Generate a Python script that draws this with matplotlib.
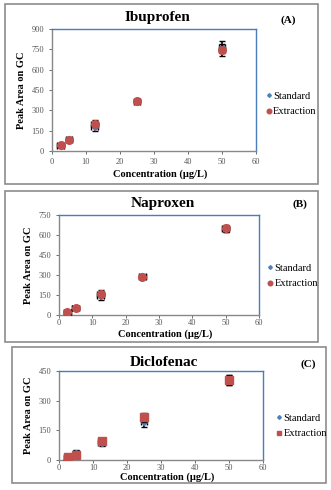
import numpy as np
import matplotlib.pyplot as plt
from matplotlib.patches import Rectangle

plt.rcParams['font.family'] = ['Liberation Serif', 'DejaVu Serif']

conc = [2.5, 5, 12.5, 25, 50]

ibu_std = [40, 85, 175, 360, 765]
ibu_ext = [45, 80, 200, 370, 745]
ibu_err = [15, 15, 25, 15, 45]

nap_std = [20, 55, 140, 290, 645]
nap_ext = [20, 50, 160, 285, 650]
nap_err = [10, 10, 25, 15, 25]

dic_std = [10, 35, 85, 190, 405]
dic_ext = [15, 25, 95, 215, 405]
dic_err = [10, 15, 15, 25, 25]

W, H = 331, 490
fig = plt.figure(figsize=(W / 100, H / 100), dpi=100)

blue = '#4f81bd'
red = '#c0504d'
spine = '#4a7ebb'


def px(x0, y0, x1, y1):
    # pixel box -> figure fraction [left, bottom, width, height]
    return [x0 / W, 1 - y1 / H, (x1 - x0) / W, (y1 - y0) / H]


def panel(box, axbox, title, tag, tagpos, std, ext, err, ymax, ext_marker,
          legy, xlab_y, titley, xpad=3.0, legx=0.015):
    fig.patches.append(Rectangle((box[0] / W, 1 - box[3] / H),
                                 (box[2] - box[0]) / W, (box[3] - box[1]) / H,
                                 transform=fig.transFigure, fill=False,
                                 edgecolor='#8c8c8c', lw=1.2))
    ax = fig.add_axes(px(*axbox))
    ax.errorbar(conc, std, yerr=err, xerr=1, fmt='D', color=blue, ms=3.2,
                ecolor='black', elinewidth=1.2, capsize=2.5, label='Standard',
                zorder=3)
    ax.errorbar(conc, ext, yerr=err, xerr=1, fmt=ext_marker, color=red,
                ms=5.5, ecolor='black', elinewidth=1.2, capsize=2.5,
                label='Extraction', zorder=4)
    ax.set_xlim(0, 60)
    ax.set_ylim(0, ymax)
    ax.set_xticks(range(0, 61, 10))
    ax.set_yticks(np.arange(0, ymax + 1, 150))
    ax.tick_params(labelsize=6, colors='#555555', length=2, width=0.6)
    ax.tick_params(axis='x', pad=xpad)
    for s in ax.spines.values():
        s.set_color(spine)
        s.set_linewidth(1.0)
    ax.spines['left'].set_color('#888888')
    ax.spines['bottom'].set_color('#888888')
    ax.set_ylabel('Peak Area on GC', fontsize=7.5, fontweight='bold')
    fig.text((axbox[0] + axbox[2]) / 2 / W + 0.01, 1 - titley / H, title,
             ha='center', va='center', fontsize=11, fontweight='bold')
    fig.text(tagpos[0] / W, 1 - tagpos[1] / H, tag, ha='center', va='center',
             fontsize=8, fontweight='bold')
    fig.text((axbox[0] + axbox[2]) / 2 / W + 0.02, 1 - xlab_y / H,
             'Concentration (\u00b5g/L)', ha='center', va='center',
             fontsize=7.5, fontweight='bold')
    h, l = ax.get_legend_handles_labels()
    h = [hh[0] for hh in h]
    fig.legend(h, l, loc='center left',
               bbox_to_anchor=(axbox[2] / W + legx, 1 - legy / H),
               frameon=False, fontsize=7.5, handlelength=0.5, markerscale=0.6,
               handletextpad=0.15, labelspacing=0.55, borderpad=0)
    return ax


panel((5, 4, 318, 184), (52, 29, 256, 151), 'Ibuprofen', '(A)', (288, 20),
      ibu_std, ibu_ext, ibu_err, 900, 'o', 104, 174, 17)
panel((5, 191, 318, 342), (59, 215, 259, 315), 'Naproxen', '(B)', (300, 204),
      nap_std, nap_ext, nap_err, 750, 'o', 276, 334.5, 204, xpad=1.0,
      legx=0.01)
panel((12, 347, 326, 483), (59, 371, 263, 460), 'Diclofenac', '(C)', (308, 364),
      dic_std, dic_ext, dic_err, 450, 's', 426, 477.5, 362, xpad=1.0,
      legx=0.025)

fig.savefig('out.png', dpi=100)
